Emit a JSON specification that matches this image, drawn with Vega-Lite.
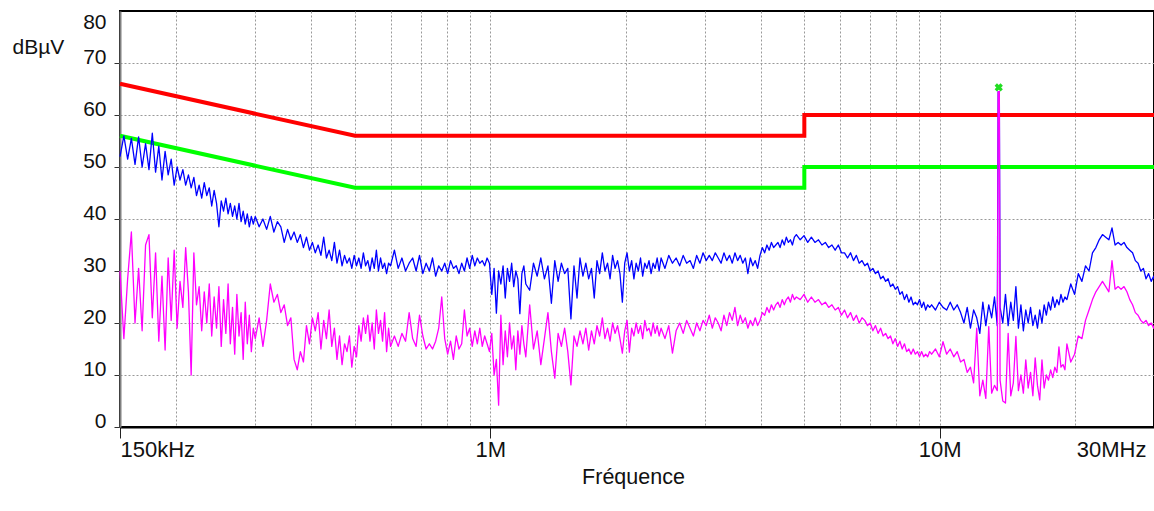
{
"$schema": "https://vega.github.io/schema/vega-lite/v6.json",
"width": 1034, "height": 416,
"autosize": {"type": "none"},
"padding": {"left": 120, "top": 11, "right": 0, "bottom": 84},
"background": "white",
"config": {"view": {"stroke": "#000000", "strokeWidth": 2}},
"datasets": {
"lim": [
{"f":0.15,"v":66,"s":"QP","o":0},{"f":0.5,"v":56,"s":"QP","o":1},{"f":5,"v":56,"s":"QP","o":2},{"f":5,"v":60,"s":"QP","o":3},{"f":30,"v":60,"s":"QP","o":4},
{"f":0.15,"v":56,"s":"AV","o":0},{"f":0.5,"v":46,"s":"AV","o":1},{"f":5,"v":46,"s":"AV","o":2},{"f":5,"v":50,"s":"AV","o":3},{"f":30,"v":50,"s":"AV","o":4}
],
"tr": [
{"f":0.150,"pk":52.0,"av":30.0},{"f":0.153,"pk":56.0,"av":17.0},{"f":0.156,"pk":51.5,"av":28.5},{"f":0.159,"pk":55.5,"av":37.5},{"f":0.162,"pk":50.5,"av":20.0},
{"f":0.165,"pk":55.8,"av":30.5},{"f":0.168,"pk":50.0,"av":18.5},{"f":0.171,"pk":54.5,"av":35.0},{"f":0.174,"pk":49.5,"av":37.0},{"f":0.177,"pk":56.5,"av":21.0},
{"f":0.180,"pk":49.0,"av":33.5},{"f":0.183,"pk":54.0,"av":16.5},{"f":0.186,"pk":47.5,"av":29.0},{"f":0.189,"pk":53.0,"av":14.8},{"f":0.192,"pk":48.5,"av":32.5},
{"f":0.195,"pk":51.5,"av":20.5},{"f":0.198,"pk":46.5,"av":34.0},{"f":0.201,"pk":50.0,"av":19.0},{"f":0.204,"pk":47.5,"av":28.0},{"f":0.207,"pk":49.5,"av":23.0},
{"f":0.210,"pk":46.5,"av":34.5},{"f":0.213,"pk":48.5,"av":26.0},{"f":0.216,"pk":46.0,"av":10.0},{"f":0.219,"pk":48.0,"av":33.5},{"f":0.222,"pk":44.5,"av":23.5},
{"f":0.225,"pk":46.5,"av":27.0},{"f":0.228,"pk":44.0,"av":18.5},{"f":0.231,"pk":47.0,"av":26.0},{"f":0.234,"pk":44.5,"av":20.0},{"f":0.237,"pk":46.0,"av":27.5},
{"f":0.240,"pk":42.5,"av":17.5},{"f":0.243,"pk":45.5,"av":25.0},{"f":0.246,"pk":43.0,"av":19.0},{"f":0.249,"pk":38.5,"av":27.0},{"f":0.252,"pk":43.5,"av":15.5},
{"f":0.255,"pk":41.5,"av":24.5},{"f":0.258,"pk":44.0,"av":18.0},{"f":0.261,"pk":41.0,"av":27.5},{"f":0.264,"pk":43.0,"av":16.0},{"f":0.267,"pk":40.5,"av":23.0},
{"f":0.270,"pk":42.5,"av":14.0},{"f":0.273,"pk":40.0,"av":25.5},{"f":0.276,"pk":43.0,"av":17.5},{"f":0.279,"pk":39.5,"av":22.0},{"f":0.282,"pk":41.5,"av":13.0},
{"f":0.285,"pk":39.0,"av":24.0},{"f":0.288,"pk":41.0,"av":16.0},{"f":0.291,"pk":38.5,"av":21.5},{"f":0.294,"pk":40.5,"av":14.5},{"f":0.297,"pk":39.0,"av":19.0},
{"f":0.300,"pk":40.5,"av":17.0},{"f":0.306,"pk":38.5,"av":21.0},{"f":0.312,"pk":40.0,"av":15.5},{"f":0.318,"pk":38.0,"av":20.5},{"f":0.324,"pk":40.5,"av":27.5},
{"f":0.330,"pk":37.5,"av":24.0},{"f":0.336,"pk":39.5,"av":25.5},{"f":0.342,"pk":38.5,"av":22.0},{"f":0.348,"pk":35.5,"av":23.5},{"f":0.354,"pk":38.0,"av":19.5},
{"f":0.360,"pk":36.0,"av":21.0},{"f":0.366,"pk":37.5,"av":13.0},{"f":0.372,"pk":35.5,"av":11.0},{"f":0.378,"pk":37.0,"av":14.5},{"f":0.384,"pk":34.5,"av":12.5},
{"f":0.390,"pk":36.5,"av":19.5},{"f":0.396,"pk":34.0,"av":16.0},{"f":0.402,"pk":35.5,"av":21.0},{"f":0.408,"pk":33.5,"av":18.5},{"f":0.414,"pk":35.0,"av":22.0},
{"f":0.420,"pk":33.0,"av":15.0},{"f":0.426,"pk":36.5,"av":20.5},{"f":0.432,"pk":32.5,"av":17.0},{"f":0.438,"pk":34.0,"av":22.5},{"f":0.444,"pk":32.0,"av":15.5},
{"f":0.450,"pk":35.5,"av":19.0},{"f":0.456,"pk":31.5,"av":13.0},{"f":0.462,"pk":34.0,"av":17.5},{"f":0.468,"pk":31.0,"av":12.0},{"f":0.474,"pk":33.0,"av":16.0},
{"f":0.480,"pk":31.5,"av":14.5},{"f":0.486,"pk":32.5,"av":17.5},{"f":0.492,"pk":30.5,"av":11.5},{"f":0.498,"pk":33.0,"av":15.5},{"f":0.504,"pk":31.0,"av":13.5},
{"f":0.510,"pk":32.5,"av":19.5},{"f":0.516,"pk":30.5,"av":16.5},{"f":0.522,"pk":33.5,"av":21.0},{"f":0.528,"pk":31.0,"av":18.0},{"f":0.534,"pk":32.0,"av":21.5},
{"f":0.540,"pk":30.0,"av":16.5},{"f":0.546,"pk":32.5,"av":20.0},{"f":0.552,"pk":30.5,"av":15.0},{"f":0.558,"pk":34.0,"av":22.5},{"f":0.564,"pk":30.0,"av":18.0},
{"f":0.570,"pk":32.5,"av":20.5},{"f":0.576,"pk":30.5,"av":16.5},{"f":0.582,"pk":31.5,"av":22.0},{"f":0.588,"pk":29.5,"av":14.5},{"f":0.594,"pk":31.5,"av":19.0},
{"f":0.600,"pk":31.0,"av":15.5},{"f":0.612,"pk":34.0,"av":17.5},{"f":0.624,"pk":30.5,"av":15.5},{"f":0.636,"pk":32.5,"av":18.0},{"f":0.648,"pk":30.0,"av":16.5},
{"f":0.660,"pk":31.5,"av":22.0},{"f":0.672,"pk":32.5,"av":17.0},{"f":0.684,"pk":30.0,"av":15.5},{"f":0.696,"pk":33.0,"av":21.5},{"f":0.708,"pk":29.5,"av":17.5},
{"f":0.720,"pk":31.5,"av":15.0},{"f":0.732,"pk":30.0,"av":16.0},{"f":0.744,"pk":32.5,"av":15.0},{"f":0.756,"pk":29.0,"av":16.5},{"f":0.768,"pk":31.0,"av":19.0},
{"f":0.780,"pk":30.0,"av":25.0},{"f":0.792,"pk":31.5,"av":17.0},{"f":0.804,"pk":29.5,"av":14.0},{"f":0.816,"pk":32.0,"av":16.5},{"f":0.828,"pk":30.5,"av":13.0},
{"f":0.840,"pk":31.0,"av":17.5},{"f":0.852,"pk":29.5,"av":15.0},{"f":0.864,"pk":31.5,"av":16.0},{"f":0.876,"pk":30.0,"av":22.5},{"f":0.888,"pk":32.5,"av":17.5},
{"f":0.900,"pk":30.5,"av":19.0},{"f":0.912,"pk":33.0,"av":15.5},{"f":0.924,"pk":31.0,"av":18.5},{"f":0.936,"pk":32.5,"av":16.0},{"f":0.948,"pk":31.5,"av":19.0},
{"f":0.960,"pk":32.0,"av":15.5},{"f":0.972,"pk":31.0,"av":17.5},{"f":0.984,"pk":32.5,"av":16.0},{"f":0.996,"pk":31.5,"av":14.5},{"f":1.008,"pk":25.5,"av":18.0},
{"f":1.020,"pk":30.5,"av":10.0},{"f":1.032,"pk":21.9,"av":13.0},{"f":1.044,"pk":30.0,"av":4.2},{"f":1.056,"pk":27.5,"av":21.5},{"f":1.068,"pk":31.0,"av":12.0},
{"f":1.080,"pk":24.8,"av":18.5},{"f":1.092,"pk":30.5,"av":13.5},{"f":1.104,"pk":28.0,"av":20.0},{"f":1.116,"pk":31.5,"av":15.0},{"f":1.128,"pk":27.0,"av":17.5},
{"f":1.140,"pk":30.0,"av":11.0},{"f":1.152,"pk":28.5,"av":18.5},{"f":1.164,"pk":21.8,"av":14.0},{"f":1.176,"pk":29.5,"av":19.5},{"f":1.188,"pk":31.0,"av":16.0},
{"f":1.200,"pk":27.5,"av":13.5},{"f":1.224,"pk":26.3,"av":23.5},{"f":1.248,"pk":31.5,"av":15.0},{"f":1.272,"pk":29.0,"av":18.5},{"f":1.296,"pk":32.5,"av":12.0},
{"f":1.320,"pk":28.5,"av":17.0},{"f":1.344,"pk":31.0,"av":22.0},{"f":1.368,"pk":23.8,"av":14.5},{"f":1.392,"pk":32.0,"av":9.4},{"f":1.416,"pk":28.0,"av":18.0},
{"f":1.440,"pk":31.5,"av":15.5},{"f":1.464,"pk":29.5,"av":19.0},{"f":1.488,"pk":30.5,"av":14.5},{"f":1.512,"pk":20.8,"av":8.1},{"f":1.536,"pk":31.0,"av":17.5},
{"f":1.560,"pk":24.8,"av":15.5},{"f":1.584,"pk":32.5,"av":18.5},{"f":1.608,"pk":29.0,"av":16.0},{"f":1.632,"pk":31.5,"av":19.0},{"f":1.656,"pk":28.5,"av":14.8},
{"f":1.680,"pk":30.5,"av":18.5},{"f":1.704,"pk":24.8,"av":16.0},{"f":1.728,"pk":32.0,"av":19.5},{"f":1.752,"pk":29.5,"av":17.5},{"f":1.776,"pk":33.5,"av":21.0},
{"f":1.800,"pk":30.0,"av":17.0},{"f":1.824,"pk":31.5,"av":19.0},{"f":1.848,"pk":28.5,"av":16.5},{"f":1.872,"pk":33.0,"av":20.0},{"f":1.896,"pk":30.5,"av":18.0},
{"f":1.920,"pk":32.0,"av":19.5},{"f":1.944,"pk":29.5,"av":17.0},{"f":1.968,"pk":24.0,"av":14.2},{"f":1.992,"pk":31.5,"av":18.5},{"f":2.016,"pk":33.5,"av":20.5},
{"f":2.040,"pk":30.0,"av":14.4},{"f":2.064,"pk":32.0,"av":19.0},{"f":2.088,"pk":28.5,"av":17.5},{"f":2.112,"pk":31.5,"av":20.0},{"f":2.136,"pk":30.0,"av":18.0},
{"f":2.160,"pk":32.5,"av":19.5},{"f":2.184,"pk":29.0,"av":17.0},{"f":2.208,"pk":31.5,"av":20.5},{"f":2.232,"pk":30.5,"av":18.5},{"f":2.256,"pk":32.0,"av":19.0},
{"f":2.280,"pk":29.5,"av":17.5},{"f":2.304,"pk":31.5,"av":20.0},{"f":2.328,"pk":30.5,"av":18.0},{"f":2.352,"pk":32.5,"av":19.5},{"f":2.376,"pk":30.0,"av":17.5},
{"f":2.400,"pk":32.5,"av":19.0},{"f":2.448,"pk":30.5,"av":17.0},{"f":2.496,"pk":33.0,"av":19.5},{"f":2.544,"pk":31.5,"av":14.2},{"f":2.592,"pk":32.5,"av":18.5},
{"f":2.640,"pk":31.0,"av":20.0},{"f":2.688,"pk":33.0,"av":18.0},{"f":2.736,"pk":31.5,"av":20.5},{"f":2.784,"pk":32.0,"av":19.0},{"f":2.832,"pk":30.5,"av":17.5},
{"f":2.880,"pk":33.0,"av":20.0},{"f":2.928,"pk":31.5,"av":18.5},{"f":2.976,"pk":33.5,"av":20.5},{"f":3.024,"pk":32.0,"av":19.5},{"f":3.072,"pk":33.0,"av":21.5},
{"f":3.120,"pk":32.0,"av":19.0},{"f":3.168,"pk":33.5,"av":21.0},{"f":3.216,"pk":32.5,"av":20.0},{"f":3.264,"pk":31.5,"av":18.5},{"f":3.312,"pk":33.5,"av":21.5},
{"f":3.360,"pk":32.0,"av":19.5},{"f":3.408,"pk":33.0,"av":22.0},{"f":3.456,"pk":31.5,"av":20.5},{"f":3.504,"pk":33.5,"av":23.0},{"f":3.552,"pk":32.0,"av":19.5},
{"f":3.600,"pk":33.0,"av":21.5},{"f":3.648,"pk":31.5,"av":20.0},{"f":3.696,"pk":32.5,"av":21.0},{"f":3.744,"pk":29.5,"av":19.0},{"f":3.792,"pk":32.5,"av":20.5},
{"f":3.840,"pk":31.0,"av":19.5},{"f":3.888,"pk":32.0,"av":21.0},{"f":3.936,"pk":30.5,"av":19.5},{"f":3.984,"pk":33.0,"av":20.5},{"f":4.032,"pk":34.5,"av":22.0},
{"f":4.080,"pk":33.5,"av":21.5},{"f":4.128,"pk":35.0,"av":23.0},{"f":4.176,"pk":34.0,"av":22.0},{"f":4.224,"pk":35.5,"av":23.5},{"f":4.272,"pk":34.5,"av":22.5},
{"f":4.320,"pk":35.0,"av":23.5},{"f":4.368,"pk":35.5,"av":24.0},{"f":4.416,"pk":34.5,"av":23.0},{"f":4.464,"pk":36.0,"av":24.5},{"f":4.512,"pk":35.0,"av":23.5},
{"f":4.560,"pk":36.5,"av":24.5},{"f":4.608,"pk":35.5,"av":25.0},{"f":4.656,"pk":36.0,"av":24.0},{"f":4.704,"pk":35.0,"av":25.5},{"f":4.752,"pk":36.5,"av":24.5},
{"f":4.800,"pk":37.0,"av":25.0},{"f":4.896,"pk":36.0,"av":24.5},{"f":4.992,"pk":36.8,"av":25.5},{"f":5.088,"pk":35.5,"av":24.0},{"f":5.184,"pk":36.5,"av":25.0},
{"f":5.280,"pk":35.5,"av":24.0},{"f":5.376,"pk":36.0,"av":24.5},{"f":5.472,"pk":35.0,"av":23.5},{"f":5.568,"pk":35.5,"av":24.0},{"f":5.664,"pk":34.5,"av":23.0},
{"f":5.760,"pk":35.0,"av":23.5},{"f":5.856,"pk":34.0,"av":22.5},{"f":5.952,"pk":35.0,"av":23.0},{"f":6.048,"pk":33.5,"av":21.5},{"f":6.144,"pk":33.5,"av":22.5},
{"f":6.240,"pk":32.5,"av":21.0},{"f":6.336,"pk":33.5,"av":22.0},{"f":6.432,"pk":32.0,"av":20.5},{"f":6.528,"pk":33.0,"av":21.5},{"f":6.624,"pk":31.5,"av":20.0},
{"f":6.720,"pk":32.0,"av":21.0},{"f":6.816,"pk":31.0,"av":20.5},{"f":6.912,"pk":31.5,"av":19.5},{"f":7.008,"pk":30.0,"av":20.0},{"f":7.104,"pk":30.5,"av":18.5},
{"f":7.200,"pk":29.5,"av":19.5},{"f":7.296,"pk":30.0,"av":18.0},{"f":7.392,"pk":28.5,"av":19.0},{"f":7.488,"pk":29.0,"av":17.5},{"f":7.584,"pk":28.0,"av":18.0},
{"f":7.680,"pk":28.5,"av":17.0},{"f":7.776,"pk":27.0,"av":17.5},{"f":7.872,"pk":27.5,"av":16.0},{"f":7.968,"pk":26.5,"av":17.0},{"f":8.064,"pk":27.0,"av":15.5},
{"f":8.160,"pk":25.5,"av":16.5},{"f":8.256,"pk":26.0,"av":15.0},{"f":8.352,"pk":24.5,"av":16.0},{"f":8.448,"pk":25.5,"av":14.5},{"f":8.544,"pk":24.0,"av":15.0},
{"f":8.640,"pk":25.0,"av":14.0},{"f":8.736,"pk":23.5,"av":15.0},{"f":8.832,"pk":24.0,"av":14.0},{"f":8.928,"pk":23.5,"av":14.5},{"f":9.024,"pk":24.5,"av":13.5},
{"f":9.120,"pk":23.0,"av":14.5},{"f":9.216,"pk":24.0,"av":13.5},{"f":9.312,"pk":22.5,"av":14.0},{"f":9.408,"pk":23.5,"av":13.5},{"f":9.504,"pk":23.0,"av":14.5},
{"f":9.600,"pk":23.5,"av":14.0},{"f":9.792,"pk":22.5,"av":15.0},{"f":9.984,"pk":24.0,"av":13.5},{"f":10.176,"pk":23.0,"av":16.4},{"f":10.368,"pk":22.5,"av":14.0},
{"f":10.560,"pk":24.0,"av":15.0},{"f":10.752,"pk":22.5,"av":13.5},{"f":10.944,"pk":23.5,"av":14.5},{"f":11.136,"pk":22.0,"av":12.5},{"f":11.328,"pk":20.0,"av":13.0},
{"f":11.520,"pk":23.0,"av":10.5},{"f":11.712,"pk":19.0,"av":11.5},{"f":11.904,"pk":22.5,"av":8.5},{"f":12.096,"pk":21.0,"av":19.0},{"f":12.288,"pk":18.0,"av":6.0},
{"f":12.480,"pk":24.0,"av":9.0},{"f":12.672,"pk":19.5,"av":5.5},{"f":12.864,"pk":23.5,"av":19.3},{"f":13.056,"pk":21.0,"av":6.5},{"f":13.248,"pk":25.0,"av":8.0},
{"f":13.440,"pk":19.5,"av":7.0},{"f":13.500,"pk":64.5,"av":64.5},{"f":13.580,"pk":64.5,"av":64.5},{"f":13.632,"pk":23.0,"av":9.0},
{"f":13.824,"pk":20.0,"av":5.0},{"f":14.016,"pk":25.5,"av":4.6},{"f":14.208,"pk":19.5,"av":18.0},{"f":14.400,"pk":24.0,"av":6.0},{"f":14.592,"pk":20.5,"av":8.5},
{"f":14.784,"pk":27.0,"av":17.4},{"f":14.976,"pk":19.0,"av":7.0},{"f":15.168,"pk":23.5,"av":10.0},{"f":15.360,"pk":18.5,"av":6.5},{"f":15.552,"pk":22.5,"av":12.9},
{"f":15.744,"pk":20.0,"av":7.5},{"f":15.936,"pk":23.0,"av":10.5},{"f":16.128,"pk":19.5,"av":6.0},{"f":16.320,"pk":21.5,"av":13.3},{"f":16.512,"pk":19.0,"av":8.0},
{"f":16.704,"pk":22.5,"av":5.2},{"f":16.896,"pk":20.0,"av":12.9},{"f":17.088,"pk":23.5,"av":7.5},{"f":17.280,"pk":21.5,"av":10.0},{"f":17.472,"pk":24.0,"av":9.0},
{"f":17.664,"pk":22.5,"av":11.0},{"f":17.856,"pk":25.0,"av":9.5},{"f":18.048,"pk":23.0,"av":11.5},{"f":18.240,"pk":24.5,"av":10.5},{"f":18.432,"pk":23.5,"av":15.4},
{"f":18.624,"pk":25.5,"av":11.5},{"f":18.816,"pk":24.0,"av":12.0},{"f":19.008,"pk":25.0,"av":11.0},
{"f":19.200,"pk":24.5,"av":16.0},{"f":19.584,"pk":27.5,"av":12.5},{"f":19.968,"pk":25.5,"av":14.0},{"f":20.352,"pk":29.5,"av":17.5},{"f":20.736,"pk":28.0,"av":17.0},
{"f":21.120,"pk":31.0,"av":20.5},{"f":21.504,"pk":30.0,"av":22.5},{"f":21.888,"pk":33.5,"av":24.5},{"f":22.272,"pk":34.5,"av":26.0},{"f":22.656,"pk":36.0,"av":27.0},
{"f":23.040,"pk":37.0,"av":28.0},{"f":23.424,"pk":36.5,"av":27.0},{"f":23.808,"pk":36.0,"av":26.0},{"f":24.192,"pk":38.3,"av":32.0},{"f":24.576,"pk":35.0,"av":26.5},
{"f":24.960,"pk":35.5,"av":27.0},{"f":25.344,"pk":35.0,"av":26.5},{"f":25.728,"pk":35.5,"av":27.0},{"f":26.112,"pk":34.5,"av":26.0},{"f":26.496,"pk":34.0,"av":24.5},
{"f":26.880,"pk":33.5,"av":23.5},{"f":27.264,"pk":32.0,"av":22.0},{"f":27.648,"pk":31.5,"av":21.5},{"f":28.032,"pk":30.0,"av":20.5},{"f":28.416,"pk":30.5,"av":20.0},
{"f":28.800,"pk":28.5,"av":20.5},{"f":29.184,"pk":29.5,"av":19.5},{"f":29.568,"pk":28.0,"av":20.0},{"f":29.952,"pk":29.0,"av":19.0},{"f":30.000,"pk":28.5,"av":19.5}
],
"mk": [{"f":13.54,"v":65.3}]
},
"encoding": {
"x": {"field": "f", "type": "quantitative",
 "scale": {"type": "log", "domain": [0.15, 30], "nice": false},
 "axis": {
  "values": [0.15,0.2,0.3,0.4,0.5,0.6,0.7,0.8,0.9,1,2,3,4,5,6,7,8,9,10,20,30],
  "labelExpr": "datum.value == 0.15 ? '150kHz' : datum.value == 1 ? '1M' : datum.value == 10 ? '10M' : datum.value == 30 ? '30MHz' : ''",
  "labelFont": "Liberation Sans, Arial",
  "labelFontSize": 22, "labelColor": "#111111", "labelOverlap": false, "labelFlush": false,
  "labelAlign": {"condition": [{"test": "datum.value < 0.2", "value": "left"}, {"test": "datum.value > 25", "value": "right"}], "value": "center"},
  "labelOffset": {"condition": {"test": "datum.value > 25", "value": -8}, "value": 0},
  "labelPadding": 1, "labelBaseline": "top",
  "tickSize": 11, "tickColor": "#222222",
  "tickOpacity": {"condition": {"test": "datum.value == 0.15 || datum.value == 1 || datum.value == 10 || datum.value == 30", "value": 1}, "value": 0},
  "grid": true, "gridColor": "#999999", "gridDash": [2, 2],
  "gridOpacity": {"condition": {"test": "datum.value == 0.15 || datum.value == 30", "value": 0}, "value": 1},
  "domainColor": "#000000", "domainWidth": 2,
  "title": "Fréquence",
  "titleFont": "Liberation Sans, Arial", "titleFontSize": 21.5, "titleFontWeight": "normal", "titleColor": "#111111",
  "titleBaseline": "alphabetic", "titleX": 513, "titleY": 56
 }},
"y": {"field": "v", "type": "quantitative",
 "scale": {"domain": [0, 80], "nice": false, "zero": false},
 "axis": {
  "values": [0,10,20,30,40,50,60,70,80],
  "labelFont": "Liberation Sans, Arial",
  "labelFontSize": 21, "labelColor": "#111111", "labelOverlap": false, "labelFlush": false,
  "labelBaseline": {"condition": {"test": "datum.value == 80", "value": "top"}, "value": "alphabetic"},
  "labelPadding": 8,
  "tickSize": 6, "tickColor": "#333333",
  "tickOpacity": {"condition": {"test": "datum.value == 80", "value": 0}, "value": 1},
  "grid": true, "gridColor": "#999999", "gridDash": [2, 2],
  "gridOpacity": {"condition": {"test": "datum.value == 0 || datum.value == 80", "value": 0}, "value": 1},
  "domainColor": "#808080", "domainWidth": 2,
  "title": "dBµV", "titleAngle": 0, "titleAlign": "left", "titleBaseline": "alphabetic",
  "titleX": -108, "titleY": 42,
  "titleFont": "Liberation Sans, Arial", "titleFontSize": 21, "titleFontWeight": "normal", "titleColor": "#111111"
 }}
},
"layer": [
{"data": {"name": "lim"},
 "mark": {"type": "line", "strokeWidth": 4},
 "encoding": {
  "color": {"field": "s", "type": "nominal", "scale": {"domain": ["QP", "AV"], "range": ["#ff0000", "#00ff00"]}, "legend": null},
  "order": {"field": "o", "type": "quantitative"}
 }},
{"data": {"name": "tr"},
 "transform": [{"fold": ["pk"], "as": ["s", "v"]}],
 "mark": {"type": "line", "color": "#0000ff", "strokeWidth": 1.3, "strokeJoin": "round"},
 "encoding": {}},
{"data": {"name": "tr"},
 "transform": [{"fold": ["av"], "as": ["s", "v"]}],
 "mark": {"type": "line", "color": "#ff00ff", "strokeWidth": 1.3, "strokeJoin": "round"},
 "encoding": {}},
{"data": {"name": "mk"},
 "mark": {"type": "point", "shape": "cross", "angle": 45, "filled": true, "size": 70, "color": "#22dd22", "opacity": 1},
 "encoding": {}}
]
}
